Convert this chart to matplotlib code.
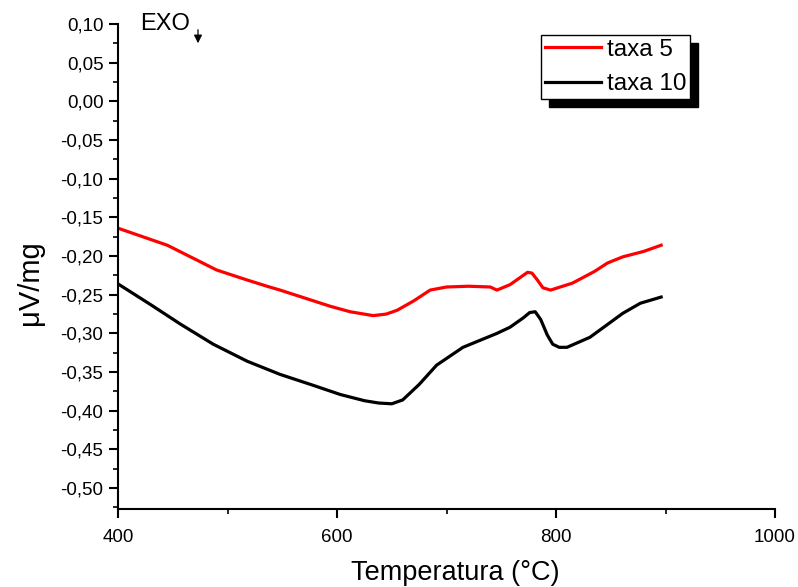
import matplotlib
matplotlib.use("Agg")
import matplotlib.pyplot as plt
from matplotlib.ticker import MultipleLocator, FuncFormatter

plt.rcParams['font.family'] = ['Liberation Sans', 'DejaVu Sans']

# values
temp_5 = [400, 445, 490, 518, 536, 548, 594, 612, 633, 645, 655, 670, 685, 700,
          720, 740, 746, 758, 767, 774, 778, 783, 788, 795, 815, 835, 847, 861,
          880, 896]
taxa_5 = [-0.164, -0.186, -0.218, -0.231, -0.239, -0.244, -0.265, -0.272, -0.277,
          -0.275, -0.270, -0.258, -0.244, -0.240, -0.239, -0.240, -0.244, -0.237,
          -0.228, -0.221, -0.222, -0.231, -0.241, -0.244, -0.235, -0.220, -0.209,
          -0.201, -0.194, -0.186]

temp_10 = [400, 430, 457, 487, 518, 548, 578, 603, 625, 638, 650, 660, 675, 691,
           715, 746, 758, 770, 776, 781, 786, 792, 797, 803, 810, 831, 861, 877,
           896]
taxa_10 = [-0.236, -0.263, -0.288, -0.314, -0.336, -0.353, -0.367, -0.379, -0.387,
           -0.390, -0.391, -0.386, -0.366, -0.341, -0.318, -0.300, -0.292, -0.280,
           -0.273, -0.272, -0.282, -0.302, -0.314, -0.318, -0.318, -0.305, -0.274,
           -0.261, -0.253]

fig = plt.figure(figsize=(7.98, 5.87), dpi=100)
ax = fig.add_axes([0.1479, 0.1329, 0.8233, 0.8262])

ax.plot(temp_5, taxa_5, color='#FF0000', lw=2.3, label='taxa 5')
ax.plot(temp_10, taxa_10, color='black', lw=2.3, label='taxa 10')

ax.set_xlim(400, 1000)
ax.set_ylim(-0.527, 0.10)

for s in ('top', 'right'):
    ax.spines[s].set_visible(False)
for s in ('left', 'bottom'):
    ax.spines[s].set_linewidth(1.5)

ax.xaxis.set_major_locator(MultipleLocator(200))
ax.xaxis.set_minor_locator(MultipleLocator(100))
ax.yaxis.set_major_locator(MultipleLocator(0.05))
ax.yaxis.set_minor_locator(MultipleLocator(0.025))
ax.yaxis.set_major_formatter(FuncFormatter(lambda v, p: f"{v:.2f}".replace('.', ',').replace('-0,00', '0,00')))
ax.tick_params(which='major', direction='out', length=6.5, width=1.5, labelsize=13.5, pad=4)
ax.tick_params(which='minor', direction='out', length=3.5, width=1.2)
ax.tick_params(axis='x', which='major', pad=8)

ax.set_xlabel('Temperatura (°C)', fontsize=19.5, va='center')
ax.xaxis.set_label_coords(0.513, -0.132)
ax.set_ylabel('μV/mg', fontsize=21, va='center')
ax.yaxis.set_label_coords(-0.134, 0.466)

leg = ax.legend(loc='upper left', bbox_to_anchor=(0.644, 0.977), fontsize=17.5,
                frameon=True, fancybox=False, edgecolor='black', handlelength=2.3,
                handletextpad=0.25, borderpad=0.15, labelspacing=0.52,
                borderaxespad=0,
                shadow={'ox': 6, 'oy': -6, 'color': 'black', 'alpha': 1})
leg.get_frame().set_linewidth(1.0)
for line in leg.get_lines():
    line.set_linewidth(2.3)

# EXO marker
fig.text(140 / 798, (587 - 30) / 587, 'EXO', fontsize=17, ha='left', va='baseline')
ax.annotate('', xy=(198, 587 - 46), xytext=(198, 587 - 27),
            xycoords='figure pixels', textcoords='figure pixels',
            arrowprops=dict(arrowstyle='-|>', color='black', lw=0.9,
                            mutation_scale=12), annotation_clip=False)

fig.savefig('out.png', dpi=100)
plt.close()
